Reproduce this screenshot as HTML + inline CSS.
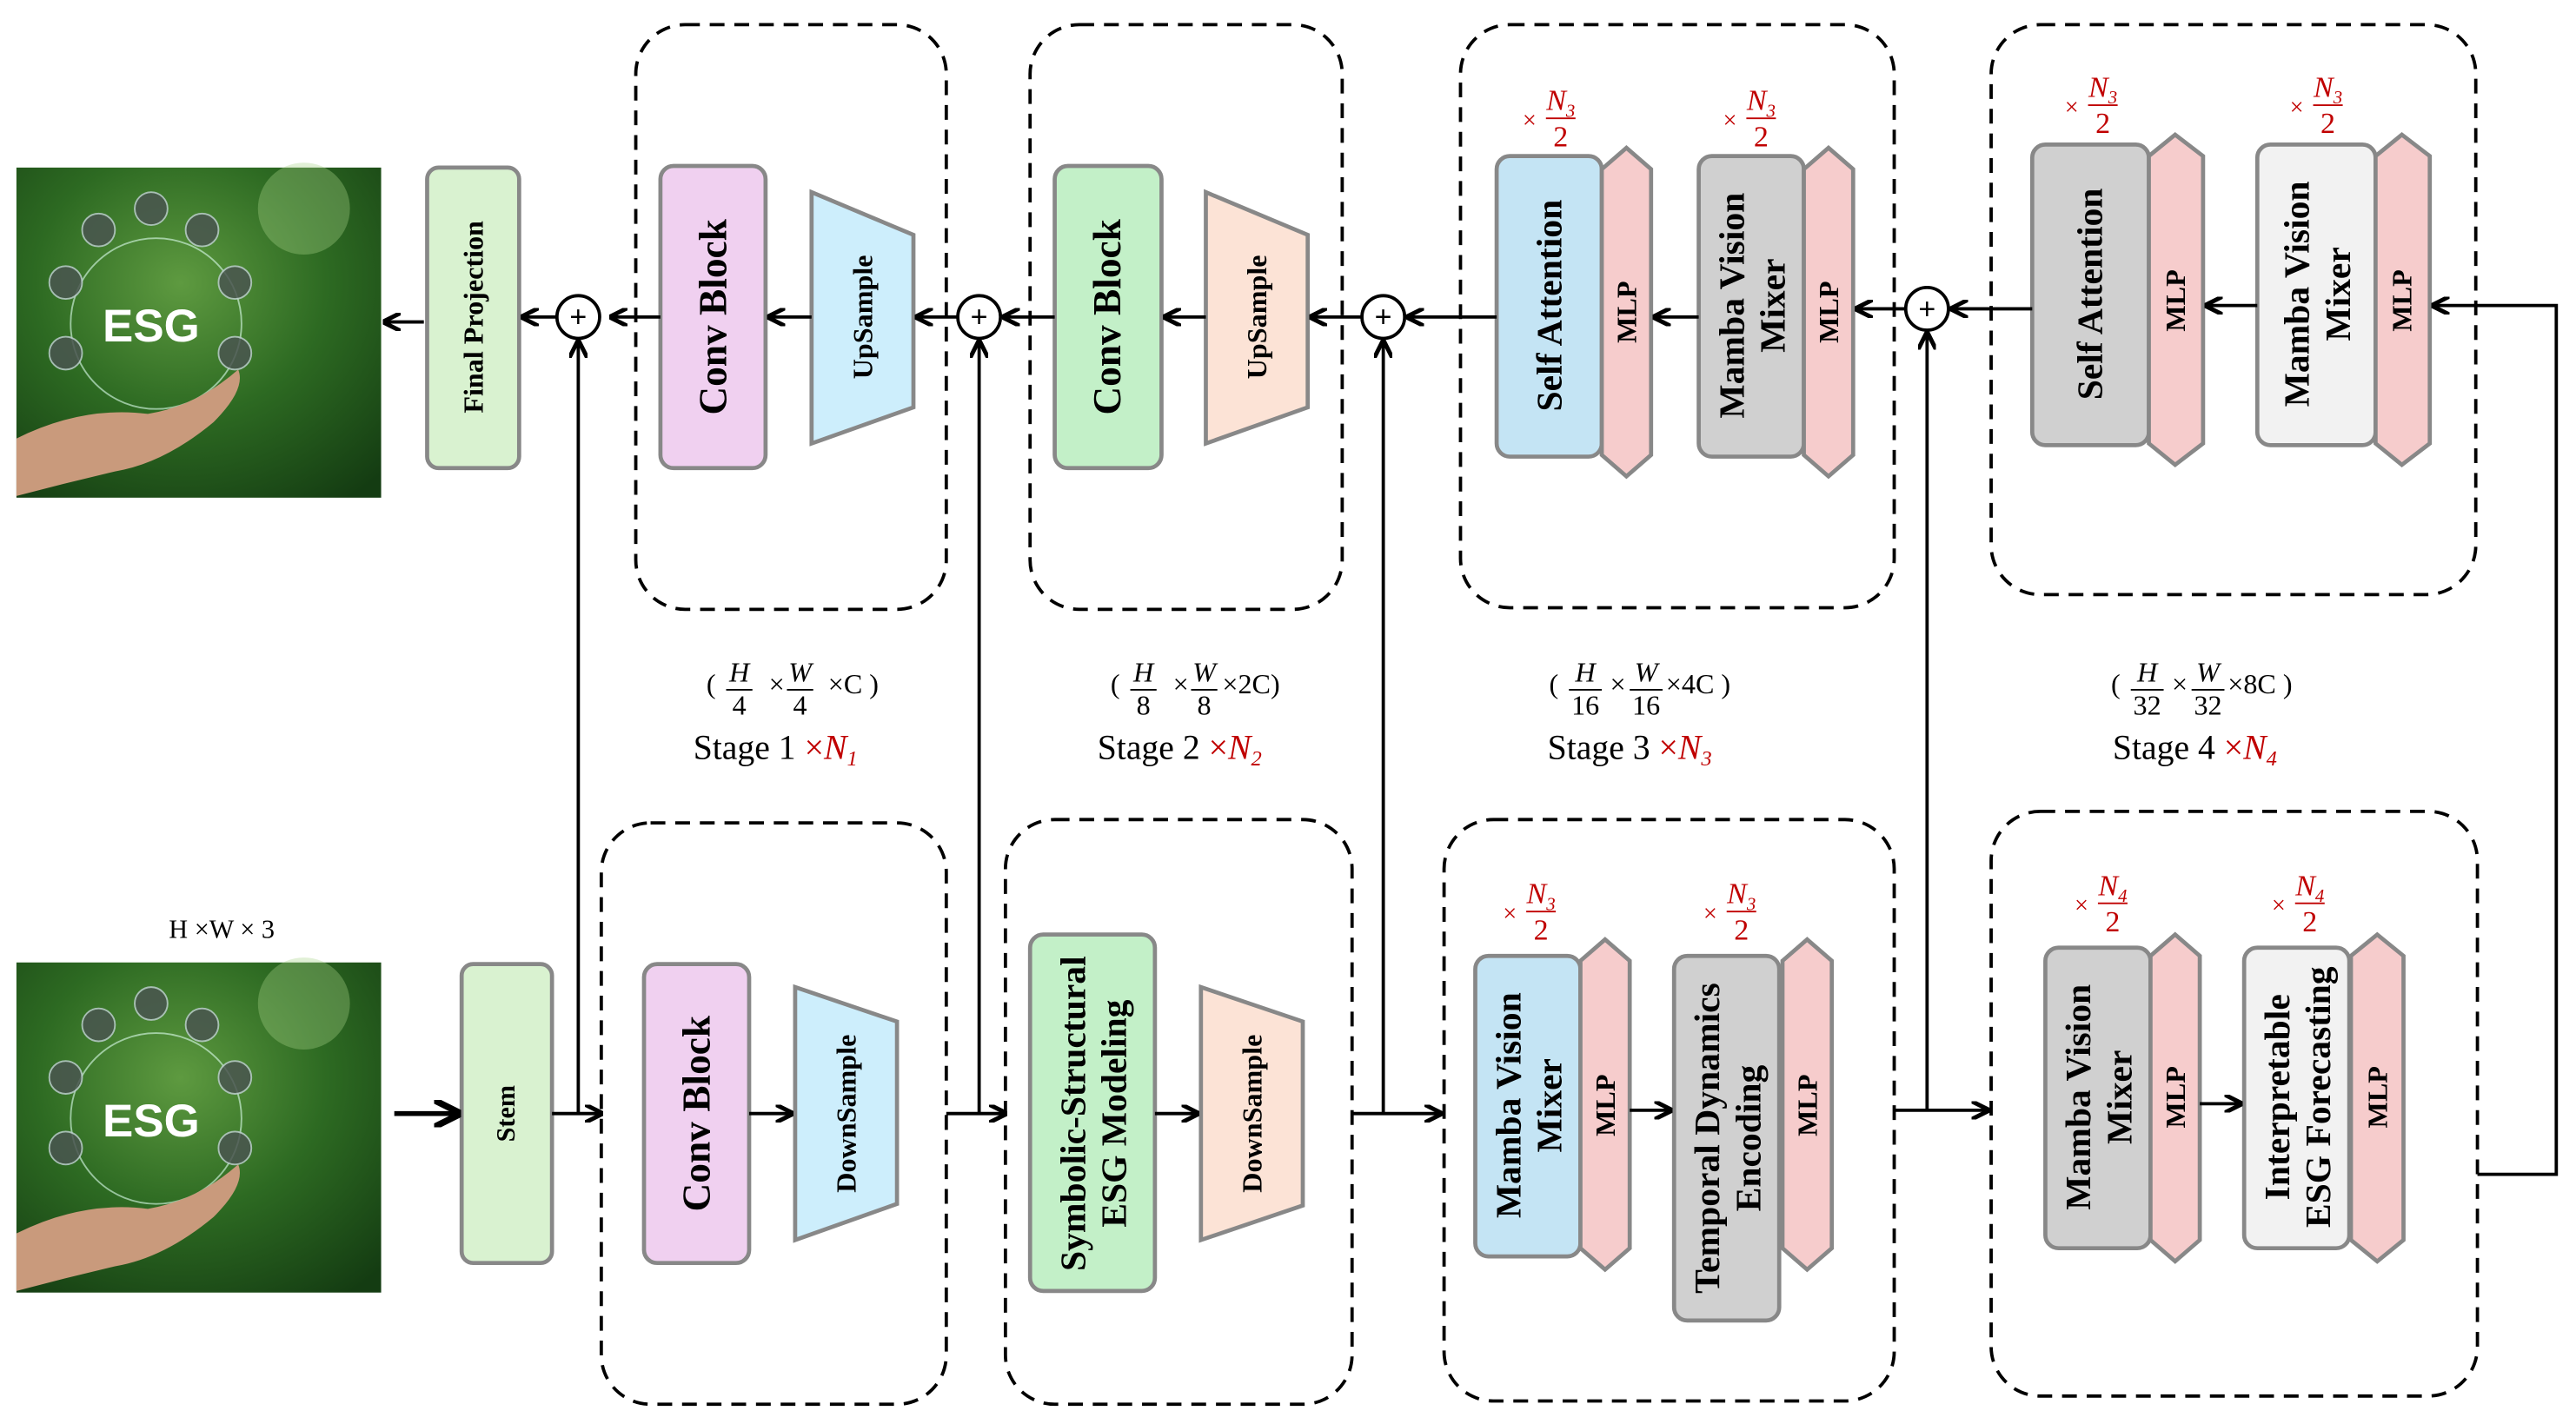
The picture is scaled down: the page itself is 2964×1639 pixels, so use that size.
<!DOCTYPE html>
<html><head><meta charset="utf-8"><style>html,body{margin:0;padding:0;background:#fff}svg{display:block}</style></head>
<body>
<svg width="2964" height="1639" viewBox="0 0 1568 867" xmlns="http://www.w3.org/2000/svg" font-family="'Liberation Serif', serif">
<defs>
<marker id="ah" viewBox="0 0 10 10" refX="9" refY="5" markerWidth="5.5" markerHeight="5.5" orient="auto-start-reverse"><path d="M0,0 L10,5 L0,10" fill="none" stroke="#000" stroke-width="2.4"/></marker>
<radialGradient id="g1" cx="0.45" cy="0.35" r="0.8"><stop offset="0" stop-color="#5e9a40"/><stop offset="0.5" stop-color="#2d6a22"/><stop offset="1" stop-color="#143c12"/></radialGradient>
<g id="img">
<rect x="0" y="0" width="222" height="201" fill="url(#g1)"/>
<circle cx="175" cy="25" r="28" fill="#a9d58a" opacity="0.35"/>
<circle cx="85" cy="95" r="52" fill="none" stroke="#dfe" stroke-width="1" opacity="0.6"/>
<g fill="#4a5550" stroke="#bcc" stroke-width="1" opacity="0.85">
<circle cx="50" cy="38" r="10"/><circle cx="82" cy="25" r="10"/><circle cx="113" cy="38" r="10"/><circle cx="30" cy="70" r="10"/><circle cx="133" cy="70" r="10"/><circle cx="30" cy="113" r="10"/><circle cx="133" cy="113" r="10"/></g>
<text x="82" y="106" font-family="'Liberation Sans',sans-serif" font-weight="bold" font-size="28" fill="#fff" text-anchor="middle">ESG</text>
<path d="M0,165 Q40,145 80,150 Q110,145 135,123 Q140,135 120,155 Q90,180 60,185 Q30,192 0,200 Z" fill="#c99a7c"/>
</g>
</defs>

<use href="#img" x="10" y="102"/>
<use href="#img" x="10" y="586"/>

<g fill="none" stroke="#000" stroke-width="2" stroke-dasharray="9,6">
<rect x="387" y="15" width="189" height="356" rx="30"/>
<rect x="627" y="15" width="190" height="356" rx="30"/>
<rect x="889" y="15" width="264" height="355" rx="30"/>
<rect x="1212" y="15" width="295" height="347" rx="30"/>
<rect x="366" y="501" width="210" height="354" rx="30"/>
<rect x="612" y="499" width="211" height="356" rx="30"/>
<rect x="879" y="499" width="274" height="354" rx="30"/>
<rect x="1212" y="494" width="296" height="356" rx="30"/>
</g>

<g stroke="#888" stroke-width="2.5">
<rect x="260" y="102" width="56" height="183" rx="7" fill="#d9f2d0"/>
<rect x="402" y="101" width="64" height="184" rx="8" fill="#f0d0f0"/>
<polygon points="494,117 556,143 556,248 494,270" fill="#cdeefc"/>
<rect x="642" y="101" width="65" height="184" rx="8" fill="#c3f0c8"/>
<polygon points="734,117 796,143 796,248 734,270" fill="#fce3d6"/>
<rect x="911" y="95" width="64" height="183" rx="8" fill="#c4e4f4"/>
<polygon points="975,103 990,90 1005,103 1005,277 990,290 975,277" fill="#f6cccc"/>
<rect x="1034" y="95" width="64" height="183" rx="8" fill="#d0d0d0"/>
<polygon points="1098,103 1113,90 1128,103 1128,277 1113,290 1098,277" fill="#f6cccc"/>
<rect x="1237" y="88" width="71" height="183" rx="8" fill="#d0d0d0"/>
<polygon points="1308,95 1324,82 1341,95 1341,270 1324,283 1308,270" fill="#f6cccc"/>
<rect x="1374" y="88" width="72" height="183" rx="8" fill="#f2f2f2"/>
<polygon points="1446,95 1462,82 1479,95 1479,270 1462,283 1446,270" fill="#f6cccc"/>

<rect x="281" y="587" width="55" height="182" rx="7" fill="#d9f2d0"/>
<rect x="392" y="587" width="64" height="182" rx="8" fill="#f0d0f0"/>
<polygon points="484,601 546,622 546,733 484,755" fill="#cdeefc"/>
<rect x="627" y="569" width="76" height="217" rx="8" fill="#c3f0c8"/>
<polygon points="731,601 793,622 793,734 731,755" fill="#fce3d6"/>
<rect x="898" y="582" width="64" height="183" rx="8" fill="#c4e4f4"/>
<polygon points="962,585 977,572 992,585 992,760 977,773 962,760" fill="#f6cccc"/>
<rect x="1019" y="582" width="64" height="222" rx="8" fill="#d0d0d0"/>
<polygon points="1085,585 1100,572 1115,585 1115,760 1100,773 1085,760" fill="#f6cccc"/>
<rect x="1245" y="577" width="64" height="183" rx="8" fill="#d0d0d0"/>
<polygon points="1309,582 1324,569 1339,582 1339,755 1324,768 1309,755" fill="#f6cccc"/>
<rect x="1366" y="577" width="64" height="183" rx="8" fill="#f2f2f2"/>
<polygon points="1431,582 1447,569 1463,582 1463,755 1447,768 1431,755" fill="#f6cccc"/>
</g>

<g fill="#fff" stroke="#000" stroke-width="2">
<circle cx="352" cy="193" r="13"/><circle cx="596" cy="193" r="13"/><circle cx="842" cy="193" r="13"/><circle cx="1173" cy="188" r="13"/>
</g>
<g font-family="'Liberation Sans',sans-serif" font-size="18" text-anchor="middle">
<text x="352" y="199">+</text><text x="596" y="199">+</text><text x="842" y="199">+</text><text x="1173" y="194">+</text>
</g>

<g stroke="#000" stroke-width="2" fill="none" marker-end="url(#ah)">
<line x1="258" y1="196" x2="234" y2="196"/>
<line x1="339" y1="193" x2="318" y2="193"/>
<line x1="402" y1="193" x2="372" y2="193"/>
<line x1="494" y1="193" x2="468" y2="193"/>
<line x1="583" y1="193" x2="558" y2="193"/>
<line x1="642" y1="193" x2="611" y2="193"/>
<line x1="734" y1="193" x2="709" y2="193"/>
<line x1="829" y1="193" x2="798" y2="193"/>
<line x1="911" y1="193" x2="857" y2="193"/>
<line x1="1034" y1="193" x2="1007" y2="193"/>
<line x1="1160" y1="188" x2="1130" y2="188"/>
<line x1="1237" y1="188" x2="1188" y2="188"/>
<line x1="1374" y1="186" x2="1343" y2="186"/>
<polyline points="1508,715 1556,715 1556,186 1481,186"/>
<line x1="352" y1="678" x2="352" y2="208"/>
<line x1="596" y1="678" x2="596" y2="208"/>
<line x1="842" y1="678" x2="842" y2="208"/>
<line x1="1173" y1="676" x2="1173" y2="203"/>
<line x1="240" y1="678" x2="279" y2="678" stroke-width="3"/>
<line x1="336" y1="678" x2="366" y2="678"/>
<line x1="456" y1="678" x2="482" y2="678"/>
<line x1="576" y1="678" x2="612" y2="678"/>
<line x1="703" y1="678" x2="729" y2="678"/>
<line x1="823" y1="678" x2="877" y2="678"/>
<line x1="992" y1="676" x2="1017" y2="676"/>
<line x1="1153" y1="676" x2="1210" y2="676"/>
<line x1="1339" y1="672" x2="1364" y2="672"/>
</g>

<g font-weight="bold" text-anchor="middle" dominant-baseline="central">
<text transform="translate(288,193) rotate(-90)" font-size="17">Final Projection</text>
<text transform="translate(434,193) rotate(-90)" font-size="24">Conv Block</text>
<text transform="translate(525,193) rotate(-90)" font-size="17">UpSample</text>
<text transform="translate(674,193) rotate(-90)" font-size="24">Conv Block</text>
<text transform="translate(765,193) rotate(-90)" font-size="17">UpSample</text>
<text transform="translate(943,186) rotate(-90)" font-size="22">Self Attention</text>
<text transform="translate(990,190) rotate(-90)" font-size="17">MLP</text>
<text transform="translate(1066,186) rotate(-90)" font-size="22"><tspan x="0" dy="-12">Mamba Vision</tspan><tspan x="0" dy="25">Mixer</tspan></text>
<text transform="translate(1113,190) rotate(-90)" font-size="17">MLP</text>
<text transform="translate(1272,179) rotate(-90)" font-size="22">Self Attention</text>
<text transform="translate(1324,183) rotate(-90)" font-size="17">MLP</text>
<text transform="translate(1410,179) rotate(-90)" font-size="22"><tspan x="0" dy="-12">Mamba Vision</tspan><tspan x="0" dy="25">Mixer</tspan></text>
<text transform="translate(1462,183) rotate(-90)" font-size="17">MLP</text>

<text transform="translate(308,678) rotate(-90)" font-size="16">Stem</text>
<text transform="translate(424,678) rotate(-90)" font-size="24">Conv Block</text>
<text transform="translate(515,678) rotate(-90)" font-size="17">DownSample</text>
<text transform="translate(665,678) rotate(-90)" font-size="22"><tspan x="0" dy="-12">Symbolic-Structural</tspan><tspan x="0" dy="25">ESG Modeling</tspan></text>
<text transform="translate(762,678) rotate(-90)" font-size="17">DownSample</text>
<text transform="translate(930,673) rotate(-90)" font-size="22"><tspan x="0" dy="-12">Mamba Vision</tspan><tspan x="0" dy="25">Mixer</tspan></text>
<text transform="translate(977,673) rotate(-90)" font-size="17">MLP</text>
<text transform="translate(1051,693) rotate(-90)" font-size="22"><tspan x="0" dy="-12">Temporal Dynamics</tspan><tspan x="0" dy="25">Encoding</tspan></text>
<text transform="translate(1100,673) rotate(-90)" font-size="17">MLP</text>
<text transform="translate(1277,668) rotate(-90)" font-size="22"><tspan x="0" dy="-12">Mamba Vision</tspan><tspan x="0" dy="25">Mixer</tspan></text>
<text transform="translate(1324,668) rotate(-90)" font-size="17">MLP</text>
<text transform="translate(1398,668) rotate(-90)" font-size="22"><tspan x="0" dy="-12">Interpretable</tspan><tspan x="0" dy="25">ESG Forecasting</tspan></text>
<text transform="translate(1447,668) rotate(-90)" font-size="17">MLP</text>
</g>

<g fill="#c00000" font-size="18" text-anchor="middle">
<g transform="translate(940,70)"><text x="-9" y="8" font-size="15">×</text><text x="10" y="-3" font-style="italic">N<tspan font-size="11" dy="4">3</tspan></text><line x1="1" y1="2" x2="19" y2="2" stroke="#c00000"/><text x="10" y="19">2</text></g>
<g transform="translate(1062,70)"><text x="-9" y="8" font-size="15">×</text><text x="10" y="-3" font-style="italic">N<tspan font-size="11" dy="4">3</tspan></text><line x1="1" y1="2" x2="19" y2="2" stroke="#c00000"/><text x="10" y="19">2</text></g>
<g transform="translate(1270,62)"><text x="-9" y="8" font-size="15">×</text><text x="10" y="-3" font-style="italic">N<tspan font-size="11" dy="4">3</tspan></text><line x1="1" y1="2" x2="19" y2="2" stroke="#c00000"/><text x="10" y="19">2</text></g>
<g transform="translate(1407,62)"><text x="-9" y="8" font-size="15">×</text><text x="10" y="-3" font-style="italic">N<tspan font-size="11" dy="4">3</tspan></text><line x1="1" y1="2" x2="19" y2="2" stroke="#c00000"/><text x="10" y="19">2</text></g>
<g transform="translate(928,553)"><text x="-9" y="8" font-size="15">×</text><text x="10" y="-3" font-style="italic">N<tspan font-size="11" dy="4">3</tspan></text><line x1="1" y1="2" x2="19" y2="2" stroke="#c00000"/><text x="10" y="19">2</text></g>
<g transform="translate(1050,553)"><text x="-9" y="8" font-size="15">×</text><text x="10" y="-3" font-style="italic">N<tspan font-size="11" dy="4">3</tspan></text><line x1="1" y1="2" x2="19" y2="2" stroke="#c00000"/><text x="10" y="19">2</text></g>
<g transform="translate(1276,548)"><text x="-9" y="8" font-size="15">×</text><text x="10" y="-3" font-style="italic">N<tspan font-size="11" dy="4">4</tspan></text><line x1="1" y1="2" x2="19" y2="2" stroke="#c00000"/><text x="10" y="19">2</text></g>
<g transform="translate(1396,548)"><text x="-9" y="8" font-size="15">×</text><text x="10" y="-3" font-style="italic">N<tspan font-size="11" dy="4">4</tspan></text><line x1="1" y1="2" x2="19" y2="2" stroke="#c00000"/><text x="10" y="19">2</text></g>
</g>

<g font-size="17">
<g transform="translate(430,418)"><text x="0" y="4">(</text><text x="20" y="-3" font-style="italic" text-anchor="middle">H</text><line x1="12" y1="2" x2="28" y2="2" stroke="#000"/><text x="20" y="17" text-anchor="middle">4</text><text x="38" y="4">×</text><text x="57" y="-3" font-style="italic" text-anchor="middle">W</text><line x1="49" y1="2" x2="65" y2="2" stroke="#000"/><text x="57" y="17" text-anchor="middle">4</text><text x="74" y="4">×C )</text></g>
<g transform="translate(676,418)"><text x="0" y="4">(</text><text x="20" y="-3" font-style="italic" text-anchor="middle">H</text><line x1="12" y1="2" x2="28" y2="2" stroke="#000"/><text x="20" y="17" text-anchor="middle">8</text><text x="38" y="4">×</text><text x="57" y="-3" font-style="italic" text-anchor="middle">W</text><line x1="49" y1="2" x2="65" y2="2" stroke="#000"/><text x="57" y="17" text-anchor="middle">8</text><text x="68" y="4">×2C)</text></g>
<g transform="translate(943,418)"><text x="0" y="4">(</text><text x="22" y="-3" font-style="italic" text-anchor="middle">H</text><line x1="12" y1="2" x2="32" y2="2" stroke="#000"/><text x="22" y="17" text-anchor="middle">16</text><text x="37" y="4">×</text><text x="59" y="-3" font-style="italic" text-anchor="middle">W</text><line x1="49" y1="2" x2="69" y2="2" stroke="#000"/><text x="59" y="17" text-anchor="middle">16</text><text x="71" y="4">×4C )</text></g>
<g transform="translate(1285,418)"><text x="0" y="4">(</text><text x="22" y="-3" font-style="italic" text-anchor="middle">H</text><line x1="12" y1="2" x2="32" y2="2" stroke="#000"/><text x="22" y="17" text-anchor="middle">32</text><text x="37" y="4">×</text><text x="59" y="-3" font-style="italic" text-anchor="middle">W</text><line x1="49" y1="2" x2="69" y2="2" stroke="#000"/><text x="59" y="17" text-anchor="middle">32</text><text x="71" y="4">×8C )</text></g>
</g>
<g font-size="21">
<text x="422" y="462">Stage 1 <tspan fill="#c00000">×<tspan font-style="italic">N</tspan><tspan font-size="13" font-style="italic" dy="4">1</tspan></tspan></text>
<text x="668" y="462">Stage 2 <tspan fill="#c00000">×<tspan font-style="italic">N</tspan><tspan font-size="13" font-style="italic" dy="4">2</tspan></tspan></text>
<text x="942" y="462">Stage 3 <tspan fill="#c00000">×<tspan font-style="italic">N</tspan><tspan font-size="13" font-style="italic" dy="4">3</tspan></tspan></text>
<text x="1286" y="462">Stage 4 <tspan fill="#c00000">×<tspan font-style="italic">N</tspan><tspan font-size="13" font-style="italic" dy="4">4</tspan></tspan></text>
</g>
<text x="135" y="571" font-size="16" text-anchor="middle">H ×W × 3</text>
</svg>
</body></html>
